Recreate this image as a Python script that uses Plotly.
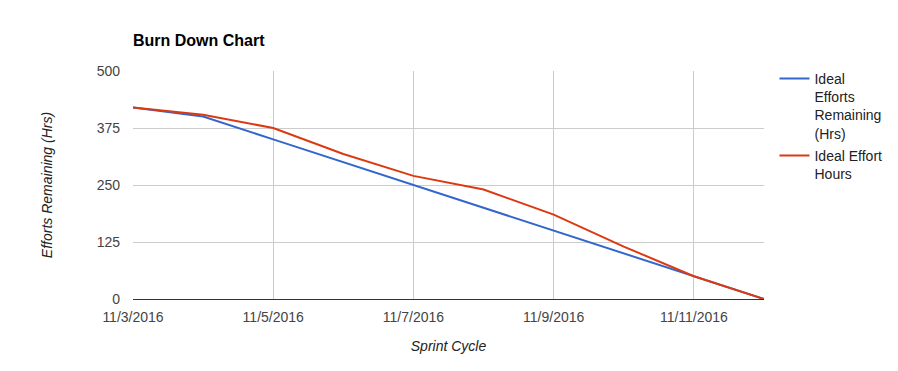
import plotly.graph_objects as go

dates = ["2016-11-03", "2016-11-04", "2016-11-05", "2016-11-06", "2016-11-07",
         "2016-11-08", "2016-11-09", "2016-11-10", "2016-11-11", "2016-11-12"]
ideal_remaining = [420, 400, 350, 300, 250, 200, 150, 100, 50, 0]
ideal_hours = [420, 404, 375, 318, 270, 240, 185, 115, 50, 0]
y_ticks = [0, 125, 250, 375, 500]
x_ticks = ["2016-11-03", "2016-11-05", "2016-11-07", "2016-11-09", "2016-11-11"]
x_tick_labels = ["11/3/2016", "11/5/2016", "11/7/2016", "11/9/2016", "11/11/2016"]

font = "Liberation Sans, Arial, sans-serif"

fig = go.Figure()
fig.add_trace(go.Scatter(x=dates, y=ideal_remaining, mode="lines",
                         name="Ideal<br>Efforts<br>Remaining<br>(Hrs)",
                         legendgroup="a",
                         line=dict(color="#3366cc", width=2)))
fig.add_trace(go.Scatter(x=dates, y=ideal_hours, mode="lines",
                         name="Ideal Effort<br>Hours",
                         legendgroup="b",
                         line=dict(color="#dc3912", width=2)))

fig.update_layout(
    width=898, height=371,
    margin=dict(l=133, r=133, t=71, b=72),
    paper_bgcolor="white", plot_bgcolor="white",
    font=dict(family=font, size=14, color="#222"),
    title=dict(text="<b>Burn Down Chart</b>", x=133/898, xanchor="left",
               y=1 - 40/371, yanchor="middle",
               font=dict(family=font, size=16, color="#000")),
    showlegend=True,
    legend=dict(x=1.015, xanchor="left", y=1.035, yanchor="top",
                valign="top",
                font=dict(family=font, size=14, color="#222"),
                tracegroupgap=1, itemwidth=30, bgcolor="rgba(0,0,0,0)"),
    xaxis=dict(
        type="date", range=["2016-11-03", "2016-11-12"],
        tickvals=x_ticks, ticktext=x_tick_labels,
        showgrid=True, gridcolor="#cccccc", gridwidth=1,
        zeroline=False, showline=False, automargin=False,
        tickfont=dict(family=font, size=14, color="#444"),
        ticks="", ticklen=0, ticklabelstandoff=8,
        title=dict(text="<i>Sprint Cycle</i>", standoff=17,
                   font=dict(family=font, size=14, color="#222")),
    ),
    yaxis=dict(
        range=[0, 500], tickvals=y_ticks,
        showgrid=True, gridcolor="#cccccc", gridwidth=1,
        zeroline=True, zerolinecolor="#333333", zerolinewidth=1,
        showline=False, automargin=False,
        tickfont=dict(family=font, size=14, color="#444"),
        ticks="", ticklen=0, ticklabelstandoff=12,
        title=dict(text="<i>Efforts Remaining (Hrs)</i>", standoff=40,
                   font=dict(family=font, size=14, color="#222")),
    ),
)

fig.write_html("out.html",
               config={"displayModeBar": False},
               post_script="document.body.style.margin='0';document.body.style.padding='0';")
